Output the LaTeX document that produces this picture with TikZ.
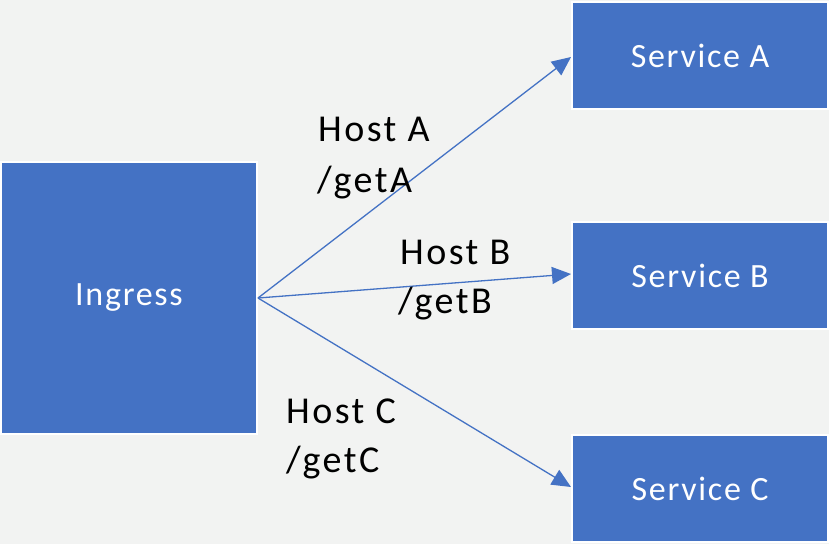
\documentclass[tikz,border=0pt]{standalone}
\usepackage{fontspec}
\setmainfont{Carlito}[LetterSpace=5]
\newfontfamily\lblfont{Carlito}[LetterSpace=6.5]
\usetikzlibrary{arrows.meta}
\definecolor{boxblue}{HTML}{4472C4}
\definecolor{bggray}{HTML}{F2F3F2}
\tikzset{
  svcbox/.style={draw=white, line width=2pt, fill=boxblue, text=white,
    inner sep=0pt, outer sep=1pt, font=\fontsize{34}{41}\selectfont},
  route/.style={draw=boxblue, line width=1.3pt,
    -{Triangle[length=19pt,width=17pt]}},
  lbl/.style={anchor=base west, inner sep=0pt, text=black,
    font=\lblfont\fontsize{38}{45}\selectfont}
}
\begin{document}
\begin{tikzpicture}[x=1pt,y=-1pt]
\fill[bggray] (0,0) rectangle (829,544);
\useasboundingbox (0,0) rectangle (829,544);
\node[svcbox, minimum width=256pt, minimum height=272pt] (ing) at (129,298) {Ingress};
\node[svcbox, minimum width=256pt, minimum height=107pt] (sa) at (700,55.5) {Service A};
\node[svcbox, minimum width=256pt, minimum height=107pt] (sb) at (700,275.5) {Service B};
\node[svcbox, minimum width=256pt, minimum height=107pt] (sc) at (700,488.5) {Service C};
\draw[route] (ing.east) -- (sa.west |- 0,57);
\draw[route] (ing.east) -- (sb.west |- 0,274);
\draw[route] (ing.east) -- (sc.west |- 0,487);
\node[lbl] (ha) at (318,141) {Host A};
\node[lbl] (ga) at (317,192) {/getA};
\node[lbl] (hb) at (400,264) {Host B};
\node[lbl] (gb) at (398,313) {/getB};
\node[lbl] (hc) at (286,423) {Host C};
\node[lbl] (gc) at (286,472) {/getC};
\end{tikzpicture}
\end{document}
